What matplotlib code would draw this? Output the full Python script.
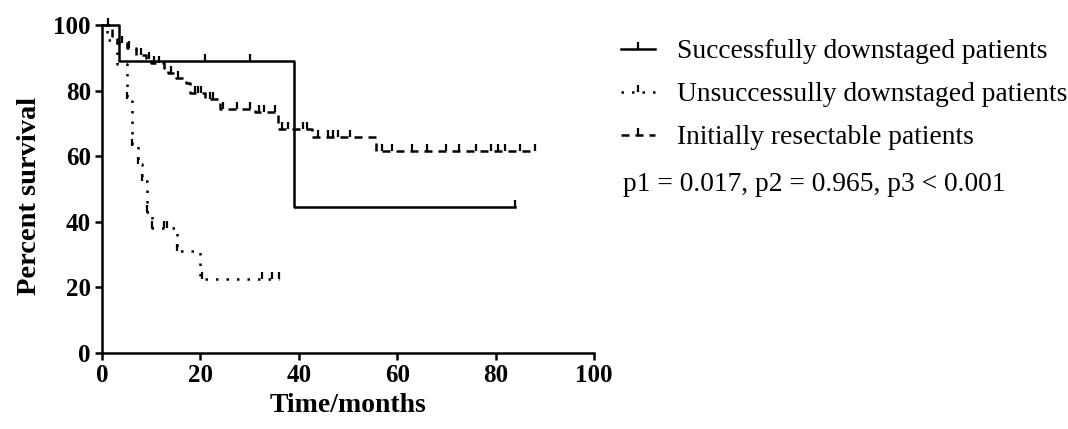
import matplotlib
matplotlib.use("Agg")
import matplotlib.pyplot as plt
from matplotlib.path import Path
from matplotlib.lines import Line2D
from matplotlib.legend_handler import HandlerBase

# ---- data ----
succ_t = [0, 3.5, 39, 84]
succ_s = [100, 88.9, 44.4, 44.4]
succ_cens_t = [1.2, 21, 30, 84]
succ_cens_s = [100, 88.9, 88.9, 44.4]

unsucc_t = [0, 1.0, 3.0, 5.0, 6.0, 7.4, 8.1, 9.1, 10.1, 15.2, 20.0, 36]
unsucc_s = [100, 95.5, 88.0, 77.3, 63.0, 57.5, 52.5, 43.0, 38.0, 31.0, 22.7, 22.7]
unsucc_cens_t = [5.0, 6.0, 7.4, 8.1, 9.1, 10.1, 12.5, 13.3, 15.2, 20.4, 32.5, 34.5, 36]
unsucc_cens_s = [77.3, 63.0, 57.5, 52.5, 43.0, 38.0, 38.0, 38.0, 31.0, 22.7, 22.7, 22.7, 22.7]

init_t = [0, 2.0, 3.0, 5.0, 7.0, 9.0, 10.0, 12.5, 13.5, 15.0, 17.0, 17.8, 21.0,
          24.0, 31.0, 35.8, 42.6, 55.7, 88]
init_s = [100, 96.5, 94.5, 93.0, 91.0, 89.5, 88.4, 86.8, 85.3, 83.8, 82.3, 79.2, 77.4,
          74.4, 73.4, 68.3, 65.8, 61.5, 61.5]
init_cens_t = [4, 5.5, 8, 9.5, 10.5, 11.5, 14, 15.5, 19, 19.5, 20.2, 22, 22.5, 24.5,
               27.4, 30, 32, 33, 35.2, 36.5, 37.8, 40.9, 41.6, 44, 46, 47, 48, 50.5,
               57, 59, 63, 66, 70, 72.5, 76, 79, 80.5, 82, 85, 88]

groups = ["Successfully downstaged patients",
          "Unsuccessully downstaged patients",
          "Initially resectable patients"]
pvalue_text = "p1 = 0.017, p2 = 0.965, p3 < 0.001"

xticks = [0, 20, 40, 60, 80, 100]
yticks = [0, 20, 40, 60, 80, 100]


def surv_at(ts, ss, t):
    val = ss[0]
    for ti, si in zip(ts, ss):
        if ti <= t:
            val = si
    return val


init_cens_s = [surv_at(init_t, init_s, t) for t in init_cens_t]

plt.rcParams['font.family'] = ['Liberation Serif', 'DejaVu Serif']

fig = plt.figure(figsize=(10.68, 4.29), dpi=100)
ax = fig.add_axes([102 / 1068, 76 / 429, 492 / 1068, 328 / 429])

tick_marker = Path([[0, 0], [0, 1]])
lw = 1.8
styles = ['-', (0, (1.0, 3.2)), (0, (3.2, 2.4))]
series = [(succ_t, succ_s, succ_cens_t, succ_cens_s),
          (unsucc_t, unsucc_s, unsucc_cens_t, unsucc_cens_s),
          (init_t, init_s, init_cens_t, init_cens_s)]

for (t, s, ct, cs), ls in zip(series, styles):
    ax.step(t, s, where='post', color='black', lw=lw, linestyle=ls, clip_on=False,
            dash_capstyle='butt')
    ax.plot(ct, cs, linestyle='none', marker=tick_marker, markersize=10,
            markeredgewidth=1.6, color='black', clip_on=False)

ax.set_xlim(0, 100)
ax.set_ylim(0, 100)
ax.set_xticks(xticks)
ax.set_yticks(yticks)
for sp in ['top', 'right']:
    ax.spines[sp].set_visible(False)
for sp in ['left', 'bottom']:
    ax.spines[sp].set_linewidth(1.8)
ax.tick_params(direction='out', length=5, width=1.8, labelsize=18, pad=3)
for lab in ax.get_xticklabels() + ax.get_yticklabels():
    lab.set_fontweight('bold')

ax.set_xlabel('Time/months', fontsize=20, fontweight='bold')
ax.set_ylabel('Percent survival', fontsize=20.5, fontweight='bold')
ax.xaxis.set_label_coords(0.5, -0.122)
ax.yaxis.set_label_coords(-0.122, 0.48)


class MidTickHandler(HandlerBase):
    def __init__(self, ls):
        super().__init__()
        self.ls = ls

    def create_artists(self, legend, orig_handle, xdescent, ydescent, width, height,
                       fontsize, trans):
        y = (height - ydescent) / 2
        xs = [-xdescent, -xdescent + width / 2, -xdescent + width]
        line = Line2D(xs, [y, y, y], color='black', lw=lw, linestyle=self.ls,
                      dash_capstyle='butt', transform=trans)
        mk = Line2D([xs[1]], [y], linestyle='none', marker=tick_marker,
                    markersize=10, markeredgewidth=1.6, color='black', transform=trans)
        return [line, mk]


handles = [Line2D([0], [0], color='black') for _ in styles]
hmap = {h: MidTickHandler(ls) for h, ls in zip(handles, styles)}

leg = fig.legend(handles, groups, loc='upper left',
                 bbox_to_anchor=(621 / 1068, 1 - 39 / 429),
                 frameon=False, fontsize=19.8, handlelength=1.25, handletextpad=0.78,
                 labelspacing=0.65, borderpad=0, borderaxespad=0,
                 handler_map=hmap)

fig.text(623 / 1068, 1 - 185 / 429, pvalue_text, fontsize=19.8, va='center', ha='left')

fig.savefig('out.png', dpi=100)
